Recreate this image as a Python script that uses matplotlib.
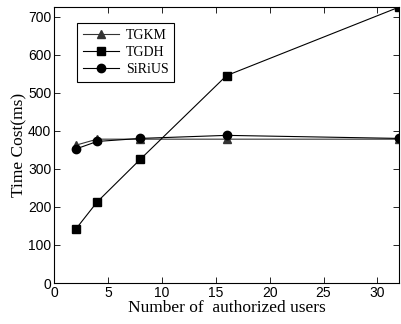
import matplotlib
matplotlib.use("Agg")
import matplotlib.pyplot as plt

users = [2, 4, 8, 16, 32]
tgkm = [362, 378, 378, 378, 378]
tgdh = [141, 213, 325, 545, 725]
sirius = [352, 372, 380, 388, 380]
xticks = [0, 5, 10, 15, 20, 25, 30]
yticks = [0, 100, 200, 300, 400, 500, 600, 700]

fig = plt.figure(figsize=(4.01, 3.24), dpi=100)
ax = fig.add_axes([0.1347, 0.1265, 0.8603, 0.8515])

ax.plot(users, tgkm, color="#333333", lw=0.8, marker="^", ms=6, label="TGKM")
ax.plot(users, tgdh, color="black", lw=0.8, marker="s", ms=6, label="TGDH")
ax.plot(users, sirius, color="black", lw=0.8, marker="o", ms=6, label="SiRiUS")

ax.set_xlim(0, 32)
ax.set_ylim(0, 725)
ax.set_xticks(xticks)
ax.set_yticks(yticks)
ax.tick_params(direction="in", top=True, right=True, length=4, width=0.6,
               labelsize=10, pad=2)
for lab in ax.get_xticklabels() + ax.get_yticklabels():
    lab.set_family("Liberation Sans")
for s in ax.spines.values():
    s.set_linewidth(0.8)

ax.set_xlabel("Number of  authorized users", family="Liberation Serif", fontsize=12.5, labelpad=0)
ax.set_ylabel("Time Cost(ms)", family="Liberation Serif", fontsize=12.5, labelpad=0)

leg = ax.legend(loc="upper left", bbox_to_anchor=(0.0667, 0.942), borderaxespad=0,
                prop={"family": "Liberation Serif", "size": 10},
                fancybox=False, edgecolor="black", framealpha=1, handlelength=2.6,
                borderpad=0.4, labelspacing=0.3, handletextpad=0.5)
leg.get_frame().set_linewidth(0.8)

fig.savefig("out.png", dpi=100)
